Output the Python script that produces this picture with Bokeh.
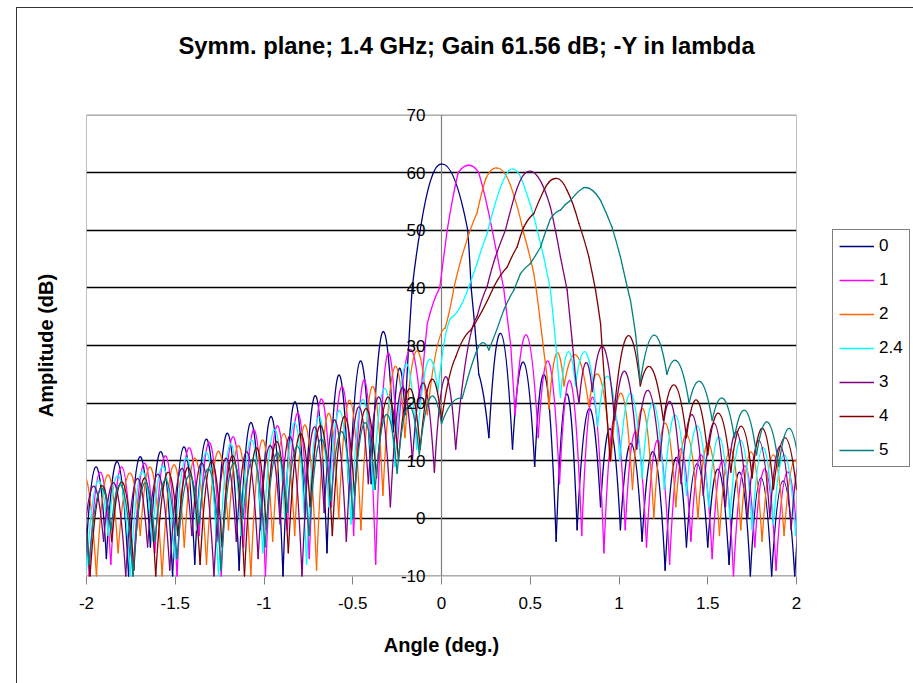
import numpy as np
from bokeh.plotting import figure
from bokeh.layouts import row
from bokeh.models import Legend, LegendItem, FixedTicker
from bokeh.core.properties import value
from bokeh.embed import file_html
from bokeh.resources import INLINE

SERIES = ["0", "1", "2", "2.4", "3", "4", "5"]
COLORS = ["#000080", "#FF00FF", "#FF6600", "#00FFFF", "#800080", "#800000", "#008080"]

# knots (nulls / flank points) and mid-segment values (lobe peaks)
S0_X = [-2.01, -1.888, -1.763, -1.64, -1.515, -1.39, -1.266, -1.14, -1.017, -0.893, -0.77, -0.645, -0.52, -0.396, -0.272,
        -0.205, -0.165, -0.12, 0.0, 0.148, 0.167, 0.21, 0.267,
        0.40, 0.525, 0.646, 0.764, 0.896, 1.008, 1.13, 1.26, 1.38, 1.50, 1.62, 1.74, 1.86, 1.99, 2.11]
S0_Y = [-10, -7, -10, -5, -10, -8, -4, -9, -2, -10, 0, -6, 3, 6, 15,
        18, 40, 50, 61.5, 50, 40, 25, 14,
        12, 9, -4, -2, 2, -2, -4, -9, -5, -5, -8, -10, -10, -10, -10]
S0_M = [8.9, 9.8, 10.6, 11.5, 12.4, 13.7, 14.7, 16.5, 17.5, 20.0, 21.2, 24.7, 27.3, 32.2,
        26, 30, 45.5, 58.8, 58.8, 45.5, 33, 21,
        32.1, 27.1, 24.5, 21.6, 19, 15.5, 13, 11.5, 10.5, 9.5, 8.5, 8, 7, 6.5, 6]

S1_X = [-2.11, -1.985, -1.863, -1.738, -1.615, -1.49, -1.365, -1.241, -1.115, -0.992, -0.868, -0.745, -0.62, -0.495, -0.371, -0.25,
        -0.12, -0.08, -0.01, 0.032, 0.094, 0.154, 0.21, 0.286, 0.35, 0.39, 0.415,
        0.545, 0.665, 0.79, 0.915, 1.035, 1.155, 1.285, 1.405, 1.525, 1.645, 1.765, 1.885, 2.01]
S1_Y = [-6, -10, -8, -10, -6, -10, -3, -10, -5, -10, -2, -7, 2, -3, -8, 12,
        20, 33.8, 40, 50, 60, 61.3, 60, 50, 40, 30, 18,
        14, 6, -3, -6, -2, -5, -8, -4, -7, -10, -5, -9, -6]
S1_M = [7.5, 8.0, 8.9, 9.5, 10.8, 12.1, 13.0, 14.1, 15.3, 15.9, 18.2, 20.5, 22.8, 24.0, 27.7,
        29, 27.5, 37.5, 45, 55.5, 61.0, 61.0, 55.5, 45, 35, 24,
        31.8, 27.1, 23.7, 21, 17.5, 15, 13.5, 12, 11, 10, 9, 8.5, 8]

S2_X = [-2.07, -1.944, -1.822, -1.697, -1.574, -1.449, -1.324, -1.2, -1.074, -0.951, -0.827, -0.704, -0.579, -0.454, -0.33, -0.206, -0.08,
        0.02, 0.07, 0.13, 0.2, 0.25, 0.314, 0.41, 0.464, 0.52, 0.558, 0.595, 0.605,
        0.69, 0.83, 0.955, 1.076, 1.196, 1.32, 1.445, 1.566, 1.686, 1.806, 1.93, 2.05]
S2_Y = [-4, -10, -6, -3, -10, -5, -8, -2, -10, -4, -3, -9, 0, -2, 4, 14, 18,
        33, 40, 47, 53, 59, 60.8, 55.8, 49.4, 42.5, 33.8, 24.5, 19,
        23, 19.5, 10, 5, 0, 2, 0, -3, -2, -4, -3, -2]
S2_M = [7.2, 7.5, 7.8, 8.7, 9.2, 10.4, 11.5, 12.4, 13.5, 14.7, 16.1, 18, 20.5, 22.8, 26, 29,
        29, 36, 43.8, 50.3, 56.3, 60.5, 59.6, 52.9, 46.2, 38.5, 29, 21.7,
        28.6, 28.3, 24.5, 21.6, 19, 16.5, 14.5, 13, 12, 11.5, 11, 10]

S3_X = [-2.12, -2.0, -1.878, -1.753, -1.63, -1.505, -1.38, -1.256, -1.13, -1.007, -0.883, -0.76, -0.635, -0.51, -0.386, -0.262, -0.14, -0.02,
        0.05, 0.154, 0.2, 0.257, 0.314, 0.38, 0.473, 0.53, 0.576, 0.614, 0.633, 0.65, 0.67,
        0.755, 0.88, 1.005, 1.13, 1.255, 1.38, 1.505, 1.625, 1.75, 1.87, 1.995, 2.12]
S3_Y = [-5, -9, -3, -10, -4, -7, -2, -10, -3, -6, 0, -8, 2, -1, 5, 9, 12, 22,
        34.7, 40.2, 44.2, 49.4, 55.8, 60.4, 57, 51.2, 45.4, 39.6, 33.8, 28, 21,
        23, 16, 10, 7, 5, 4, 2, 0, -2, -1, -3, -4]
S3_M = [6.0, 6.3, 7.2, 8.0, 9.0, 10.4, 11.2, 12.7, 13.6, 15.3, 16.4, 17.3, 18.7, 20.5, 22.5, 26.8, 27,
        30.5, 36.5, 42.2, 47, 52.8, 58.6, 60.2, 54.3, 48.3, 42.5, 36.7, 31, 24.5,
        28.9, 28.6, 24.5, 21.7, 20, 17.9, 16, 14.1, 13.5, 12.3, 11, 10.5]

S4_X = [-2.026, -1.904, -1.779, -1.656, -1.531, -1.406, -1.282, -1.156, -1.033, -0.909, -0.786, -0.661, -0.536, -0.412, -0.288, -0.164, -0.04, 0.08,
        0.2, 0.257, 0.304, 0.36, 0.41, 0.473, 0.614, 0.67, 0.708, 0.736, 0.755, 0.775,
        0.85, 0.975, 1.10, 1.23, 1.35, 1.475, 1.6, 1.725, 1.85, 1.97, 2.09]
S4_Y = [-8, -4, -10, -5, -9, -3, -10, -4, -7, -1, -10, 1, -4, 6, 2, 10, 8, 12,
        35, 40.2, 45.4, 50, 55.8, 60, 54, 45.4, 39.6, 30.9, 24.5, 20,
        22, 17, 12, 10, 6, 4, 2, 0, 0, -2, -2]
S4_M = [5.5, 6.0, 6.8, 7.6, 8.5, 9.4, 10.3, 11.5, 12.5, 14, 15.5, 17, 19, 21, 22.5, 23.5, 24.5,
        28, 38, 43, 47.8, 53, 58.5, 59.3, 50, 42.5, 35.2, 27.7, 22,
        27, 29.7, 25.4, 22.2, 20.2, 18, 16.5, 15, 13.5, 12.5, 11.5]

S5_X = [-2.10, -1.98, -1.858, -1.733, -1.61, -1.485, -1.36, -1.236, -1.11, -0.987, -0.863, -0.74, -0.615, -0.49, -0.366, -0.242, -0.12, 0.0,
        0.08, 0.163, 0.295, 0.37, 0.426, 0.464, 0.52, 0.576, 0.642, 0.708, 0.774, 0.83, 0.868, 0.896, 0.905, 0.95,
        1.12, 1.25, 1.38, 1.50, 1.63, 1.75, 1.87, 2.0, 2.12]
S5_Y = [-6, -10, -4, -9, -10, -3, -8, -5, -10, -2, -6, 2, -3, 4, 7, 10, 12, 17,
        28, 32.6, 40.2, 43.6, 47.1, 50.6, 52.9, 56.9, 59, 56.9, 51.2, 45.4, 39.6, 33.8, 29.7, 10,
        23, 17, 14, 11, 8, 7, 5, 5, 4]
S5_M = [5.0, 5.5, 6.2, 7.0, 7.8, 8.7, 9.8, 10.8, 12, 13.3, 14.5, 16, 17.5, 19, 21, 22.5, 24,
        24, 31, 36, 42.2, 45.5, 49, 52, 55, 58.5, 58.6, 54.5, 48.5, 42.6, 36.8, 31.8, 20,
        31, 26, 23.1, 20.5, 18.2, 16, 15.6, 14, 13]

S6_X = [-2.11, -1.986, -1.862, -1.738, -1.614, -1.49, -1.366, -1.242, -1.118, -0.994, -0.87, -0.746, -0.622, -0.498, -0.374, -0.25, -0.125, 0.0,
        0.116, 0.145, 0.2, 0.267, 0.35, 0.407, 0.445, 0.50, 0.558, 0.614, 0.67, 0.727, 0.80,
        0.896, 0.96, 1.008, 1.046, 1.065, 1.093, 1.12,
        1.27, 1.395, 1.525, 1.65, 1.775, 1.9, 2.02]
S6_Y = [-3, -8, -2, -10, -4, -7, -1, -9, 0, -5, 1, -3, 3, 0, 5, 7.8, 11, 16.4,
        20.8, 24, 29.2, 29.2, 36.1, 39.6, 42.5, 44.2, 47.1, 52, 53.5, 55.2, 57.4,
        55.2, 50.6, 45.4, 40.2, 37.8, 32.1, 23.7,
        25, 20, 17, 14, 11, 9, 8]
S6_M = [4.5, 5.0, 5.5, 6.0, 6.6, 7.3, 8.3, 9.2, 10.2, 11.2, 12.4, 13.6, 15, 16.5, 18, 19.5, 21,
        20, 22.4, 26.8, 30.5, 32.5, 38, 41, 43.5, 45.6, 49.7, 53, 54.5, 56.5,
        57, 53, 48.1, 42.8, 39, 35, 28,
        31.8, 27.1, 23.7, 20.8, 18.7, 16.7, 15.6]

X_TICKS = [-2, -1.5, -1, -0.5, 0, 0.5, 1, 1.5, 2]
Y_TICKS = [-10, 0, 10, 20, 30, 40, 50, 60, 70]

TITLE = "Symm. plane; 1.4 GHz; Gain 61.56 dB; -Y in lambda"
X_LABEL = "Angle (deg.)"
Y_LABEL = "Amplitude (dB)"

FONT = "Liberation Sans"
GRAY = "#808080"

x_lo, x_hi = X_TICKS[0], X_TICKS[-1]
y_lo, y_hi = Y_TICKS[0], Y_TICKS[-1]
pad = 1.5  # room so the end tick labels are not clipped by the frame

p = figure(width=820, height=683, x_range=(x_lo, x_hi), y_range=(y_lo - pad, y_hi + pad),
           output_backend="svg", toolbar_location=None,
           min_border_left=86, min_border_right=24, min_border_top=106, min_border_bottom=99,
           title=TITLE + "\n ")
p.background_fill_color = "white"
p.border_fill_alpha = 0
p.outline_line_color = None

p.title.text_font = FONT
p.title.text_font_size = "23.8px"
p.title.text_font_style = "bold"
p.title.text_color = "black"
p.title.align = "left"
p.title.offset = 92
p.title.standoff = 0
p.title.text_line_height = 1.75

p.xgrid.visible = False
p.ygrid.ticker = FixedTicker(ticks=Y_TICKS[1:-1])
p.ygrid.grid_line_color = "black"
p.ygrid.grid_line_width = 1.3

xa = p.below[0]
xa.ticker = FixedTicker(ticks=X_TICKS)
xa.major_label_overrides = {v: str(v) for v in X_TICKS}
xa.axis_label = X_LABEL
xa.axis_label_text_font = FONT
xa.axis_label_text_font_size = "20px"
xa.axis_label_text_font_style = "bold"
xa.axis_label_text_color = "black"
xa.axis_label_standoff = 22
xa.major_label_text_font = FONT
xa.major_label_text_font_size = "17px"
xa.major_label_text_color = "black"
xa.major_label_standoff = 12
xa.major_tick_out = 0
xa.major_tick_in = 8
xa.minor_tick_line_color = None
xa.axis_line_color = None
xa.major_tick_line_color = GRAY

ya = p.left[0]
ya.ticker = FixedTicker(ticks=[])
ya.axis_label = Y_LABEL
ya.axis_label_text_font = FONT
ya.axis_label_text_font_size = "20px"
ya.axis_label_text_font_style = "bold"
ya.axis_label_text_color = "black"
ya.axis_label_standoff = 30
ya.major_tick_out = 0
ya.major_tick_in = 0
ya.major_label_standoff = 0
ya.axis_line_color = None
ya.major_tick_line_color = None
ya.minor_tick_line_color = None

# plot-area border and the y axis line at x = 0
p.line(x=[x_lo, x_hi, x_hi, x_lo, x_lo], y=[y_lo, y_lo, y_hi, y_hi, y_lo], line_color=GRAY, line_width=1)
p.line(x=[0, 0], y=[y_lo, y_hi], line_color=GRAY, line_width=1.2)

series = [(S0_X, S0_Y, S0_M), (S1_X, S1_Y, S1_M), (S2_X, S2_Y, S2_M), (S3_X, S3_Y, S3_M),
          (S4_X, S4_Y, S4_M), (S5_X, S5_Y, S5_M), (S6_X, S6_Y, S6_M)]

for color, (xs, ys, ms) in zip(COLORS, series):
    xs = np.asarray(xs, dtype=float)
    ys = np.asarray(ys, dtype=float)
    ms = np.asarray(ms, dtype=float)
    p.quadratic(x0=xs[:-1], y0=ys[:-1], x1=xs[1:], y1=ys[1:],
                cx=(xs[:-1] + xs[1:]) / 2, cy=2 * ms - (ys[:-1] + ys[1:]) / 2,
                line_color=color, line_width=1.3, line_cap="round")

# y tick labels beside the axis at x = 0
p.text(x=[0] * len(Y_TICKS), y=Y_TICKS, text=[str(v) for v in Y_TICKS],
       text_align="right", text_baseline="middle", x_offset=-16,
       text_font=value(FONT), text_font_size=value("17px"), text_color="black")

# legend panel
q = figure(width=93, height=683, x_range=(0, 1), y_range=(0, 1), output_backend="svg", toolbar_location=None,
           x_axis_location=None, y_axis_location=None, min_border=0)
q.outline_line_color = None
q.grid.visible = False
q.background_fill_alpha = 0
q.border_fill_alpha = 0

items = []
for name, color in zip(SERIES, COLORS):
    r = q.line(x=[np.nan], y=[np.nan], line_color=color, line_width=1.5)
    items.append(LegendItem(label=name, renderers=[r]))

legend = Legend(items=items, location=(12, 117))
legend.border_line_color = "black"
legend.border_line_width = 1
legend.background_fill_color = "white"
legend.background_fill_alpha = 1
legend.padding = 6
legend.margin = 0
legend.spacing = 14
legend.glyph_width = 35
legend.glyph_height = 20
legend.label_height = 20
legend.label_standoff = 5
legend.label_text_font = FONT
legend.label_text_font_size = "17px"
legend.label_text_color = "black"
q.add_layout(legend)

layout = row(p, q, spacing=0)
# thin chart-area border (left and top edges) behind the transparent figure borders
layout.styles = {
    "background-color": "white",
    "background-image": "linear-gradient(#333333, #333333), linear-gradient(#333333, #333333)",
    "background-size": "1px 676px, 897px 1px",
    "background-position": "16px 7px, 16px 7px",
    "background-repeat": "no-repeat",
}
open("out.html", "w").write(file_html(layout, INLINE))
